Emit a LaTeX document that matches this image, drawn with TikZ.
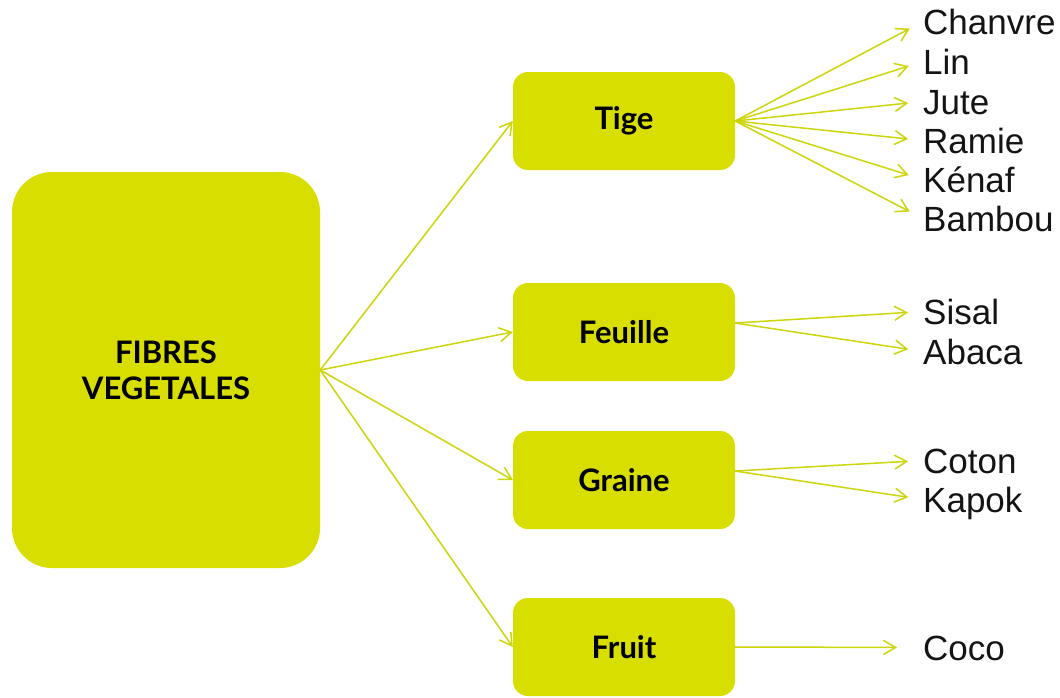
\documentclass[tikz,border=0pt]{standalone}
\usepackage{fontspec}
\setmainfont{Liberation Sans}
\newfontfamily\labelfont{Lato}
\usepackage{tikz}
\usetikzlibrary{arrows.meta, positioning}
\definecolor{FibreYellow}{RGB}{216, 222, 0}
\definecolor{LinkYellow}{RGB}{204, 212, 10}
\tikzset{
    bigbox/.style={fill=FibreYellow, rounded corners=40pt, align=center, minimum width=308pt, minimum height=396pt, font=\labelfont\bfseries\fontsize{31}{36}\selectfont},
    partbox/.style={fill=FibreYellow, rounded corners=15pt, align=center, minimum width=222pt, minimum height=98pt, font=\labelfont\bfseries\fontsize{31}{36}\selectfont},
    fibre/.style={anchor=base west, inner sep=0pt, text height=25pt, text depth=0pt, font=\fontsize{35}{40}\selectfont, text=black!92},
    arr/.style={-{Straight Barb[length=12pt, width=14pt]}, line width=1.5pt, draw=LinkYellow}
}
\begin{document}
\begin{tikzpicture}[x=1pt, y=-1pt]
    \useasboundingbox (0,0) rectangle (1060,697);

    \node[bigbox] (fibres) at (166,370) {FIBRES\\VEGETALES};

    \node[partbox] (tige) at (624,121) {Tige};
    \node[partbox] (feuille) at (624,332) {Feuille};
    \node[partbox] (graine) at (624,480) {Graine};
    \node[partbox] (fruit) at (624,647) {Fruit};

    % plantes
    \node[fibre] (chanvre) at (923,34) {Chanvre};
    \node[fibre] (lin) at (923,74) {Lin};
    \node[fibre] (jute) at (923,114) {Jute};
    \node[fibre] (ramie) at (923,153) {Ramie};
    \node[fibre] (kenaf) at (923,192) {Kénaf};
    \node[fibre] (bambou) at (923,231) {Bambou};
    \node[fibre] (sisal) at (923,324) {Sisal};
    \node[fibre] (abaca) at (923,364) {Abaca};
    \node[fibre] (coton) at (923,473) {Coton};
    \node[fibre] (kapok) at (923,512) {Kapok};
    \node[fibre] (coco) at (923,660) {Coco};

    \foreach \part in {tige, feuille, graine, fruit}
        \draw[arr] (fibres.east) -- (\part.west);

    \foreach \plante in {chanvre, lin, jute, ramie, kenaf, bambou}
        \draw[arr, shorten >=15pt] (tige.east) -- (\plante.west);
    \foreach \plante in {sisal, abaca}
        \draw[arr, shorten >=15pt] ([yshift=9pt]feuille.east) -- (\plante.west);
    \foreach \plante in {coton, kapok}
        \draw[arr, shorten >=15pt] ([yshift=9pt]graine.east) -- (\plante.west);
    \draw[arr, shorten >=26pt] (fruit.east) -- (coco.west);
\end{tikzpicture}
\end{document}
